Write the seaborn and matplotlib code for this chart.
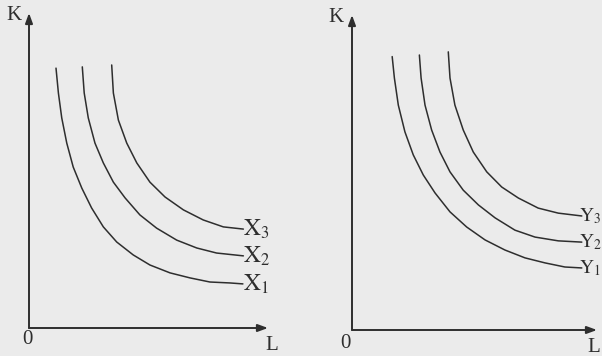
import matplotlib
matplotlib.use("Agg")
import matplotlib.pyplot as plt
import seaborn as sns
import pandas as pd

# isoquants, L and K on a 0-10 scale
x1_L = [1.13, 1.23, 1.37, 1.58, 1.85, 2.21, 2.62, 3.11, 3.67, 4.36, 5.06, 5.90, 6.74, 7.57, 8.41, 8.95]
x1_K = [8.25, 7.46, 6.67, 5.87, 5.11, 4.44, 3.81, 3.21, 2.73, 2.32, 2.00, 1.75, 1.59, 1.46, 1.43, 1.40]
x2_L = [2.23, 2.31, 2.48, 2.76, 3.11, 3.53, 4.02, 4.64, 5.34, 6.18, 7.02, 7.85, 8.97]
x2_K = [8.29, 7.46, 6.67, 5.87, 5.24, 4.63, 4.13, 3.59, 3.17, 2.79, 2.54, 2.38, 2.29]
x3_L = [3.46, 3.53, 3.74, 4.09, 4.51, 5.06, 5.69, 6.46, 7.29, 8.13, 8.97]
x3_K = [8.35, 7.46, 6.60, 5.87, 5.24, 4.63, 4.16, 3.75, 3.43, 3.21, 3.14]

y1_L = [1.64, 1.73, 1.89, 2.16, 2.50, 2.91, 3.39, 4.00, 4.68, 5.43, 6.24, 7.06, 7.88, 8.69, 9.38]
y1_K = [8.68, 8.00, 7.14, 6.29, 5.56, 4.92, 4.35, 3.75, 3.27, 2.86, 2.54, 2.29, 2.13, 2.00, 1.97]
y2_L = [2.75, 2.82, 2.98, 3.25, 3.59, 4.00, 4.54, 5.16, 5.84, 6.65, 7.47, 8.42, 9.38]
y2_K = [8.73, 8.00, 7.14, 6.35, 5.65, 5.02, 4.44, 3.97, 3.56, 3.17, 2.95, 2.83, 2.79]
y3_L = [3.93, 4.00, 4.20, 4.54, 4.95, 5.50, 6.11, 6.79, 7.60, 8.42, 9.38]
y3_K = [8.83, 8.00, 7.14, 6.35, 5.65, 5.02, 4.54, 4.19, 3.87, 3.71, 3.62]

left_labels = ["$\\mathrm{X}_1$", "$\\mathrm{X}_2$", "$\\mathrm{X}_3$"]
right_labels = ["$\\mathrm{Y}_1$", "$\\mathrm{Y}_2$", "$\\mathrm{Y}_3$"]

sns.set_style("white")
plt.rcParams["font.family"] = ["Liberation Serif", "DejaVu Serif"]
plt.rcParams["mathtext.fontset"] = "stix"

bg = "#ebebeb"
ink = "#2e2e2e"
PX = 0.72  # points per pixel at dpi 100


def make_df(curves, names):
    parts = []
    for (L, K), n in zip(curves, names):
        parts.append(pd.DataFrame({"L": L, "K": K, "curve": n}))
    return pd.concat(parts, ignore_index=True)


left = make_df([(x1_L, x1_K), (x2_L, x2_K), (x3_L, x3_K)], left_labels)
right = make_df([(y1_L, y1_K), (y2_L, y2_K), (y3_L, y3_K)], right_labels)

fig = plt.figure(figsize=(6.02, 3.56), dpi=100, facecolor=bg)
W, H = 602, 356
ax1 = fig.add_axes([29 / W, 28 / H, 239 / W, 315 / H])
ax2 = fig.add_axes([352 / W, 26 / H, 245 / W, 315 / H])


def put(ax, s, xy, off, size=15):
    ax.annotate(s, xy=xy, xycoords="axes fraction", xytext=(off[0] * PX, off[1] * PX),
                textcoords="offset points", ha="center", va="center",
                fontsize=size, color=ink, annotation_clip=False)


def draw(ax, df, names, lab_dx, lab_size, k_off, o_off, l_off):
    ax.set_facecolor("none")
    sns.lineplot(data=df, x="L", y="K", hue="curve", palette=[ink] * 3,
                 estimator=None, sort=False, legend=False, linewidth=1.1, ax=ax)
    ax.set_xlim(0, 10)
    ax.set_ylim(0, 10)
    for s in ax.spines.values():
        s.set_visible(False)
    ax.set_xticks([])
    ax.set_yticks([])
    ax.set_xlabel("")
    ax.set_ylabel("")
    arrow = dict(arrowstyle="-|>,head_length=0.6,head_width=0.22", color=ink, lw=1.4,
                 shrinkA=0, shrinkB=0)
    ax.annotate("", xy=(1, 0), xytext=(0, 0), xycoords="axes fraction", arrowprops=arrow,
                annotation_clip=False)
    ax.annotate("", xy=(0, 1), xytext=(0, 0), xycoords="axes fraction", arrowprops=arrow,
                annotation_clip=False)
    put(ax, "K", (0, 1), k_off)
    put(ax, "0", (0, 0), o_off)
    put(ax, "L", (1, 0), l_off)
    for n in names:
        sub = df[df["curve"] == n]
        ax.text(sub["L"].iloc[-1] + lab_dx, sub["K"].iloc[-1], n, ha="left", va="center",
                fontsize=lab_size, color=ink, clip_on=False)


draw(ax1, left, left_labels, 0.0, 17, (-15, -2), (-2, -11), (4, -17))
draw(ax2, right, right_labels, -0.12, 14, (-16, -2), (-7, -13), (-3, -17))

fig.savefig("out.png", dpi=100, facecolor=bg)
